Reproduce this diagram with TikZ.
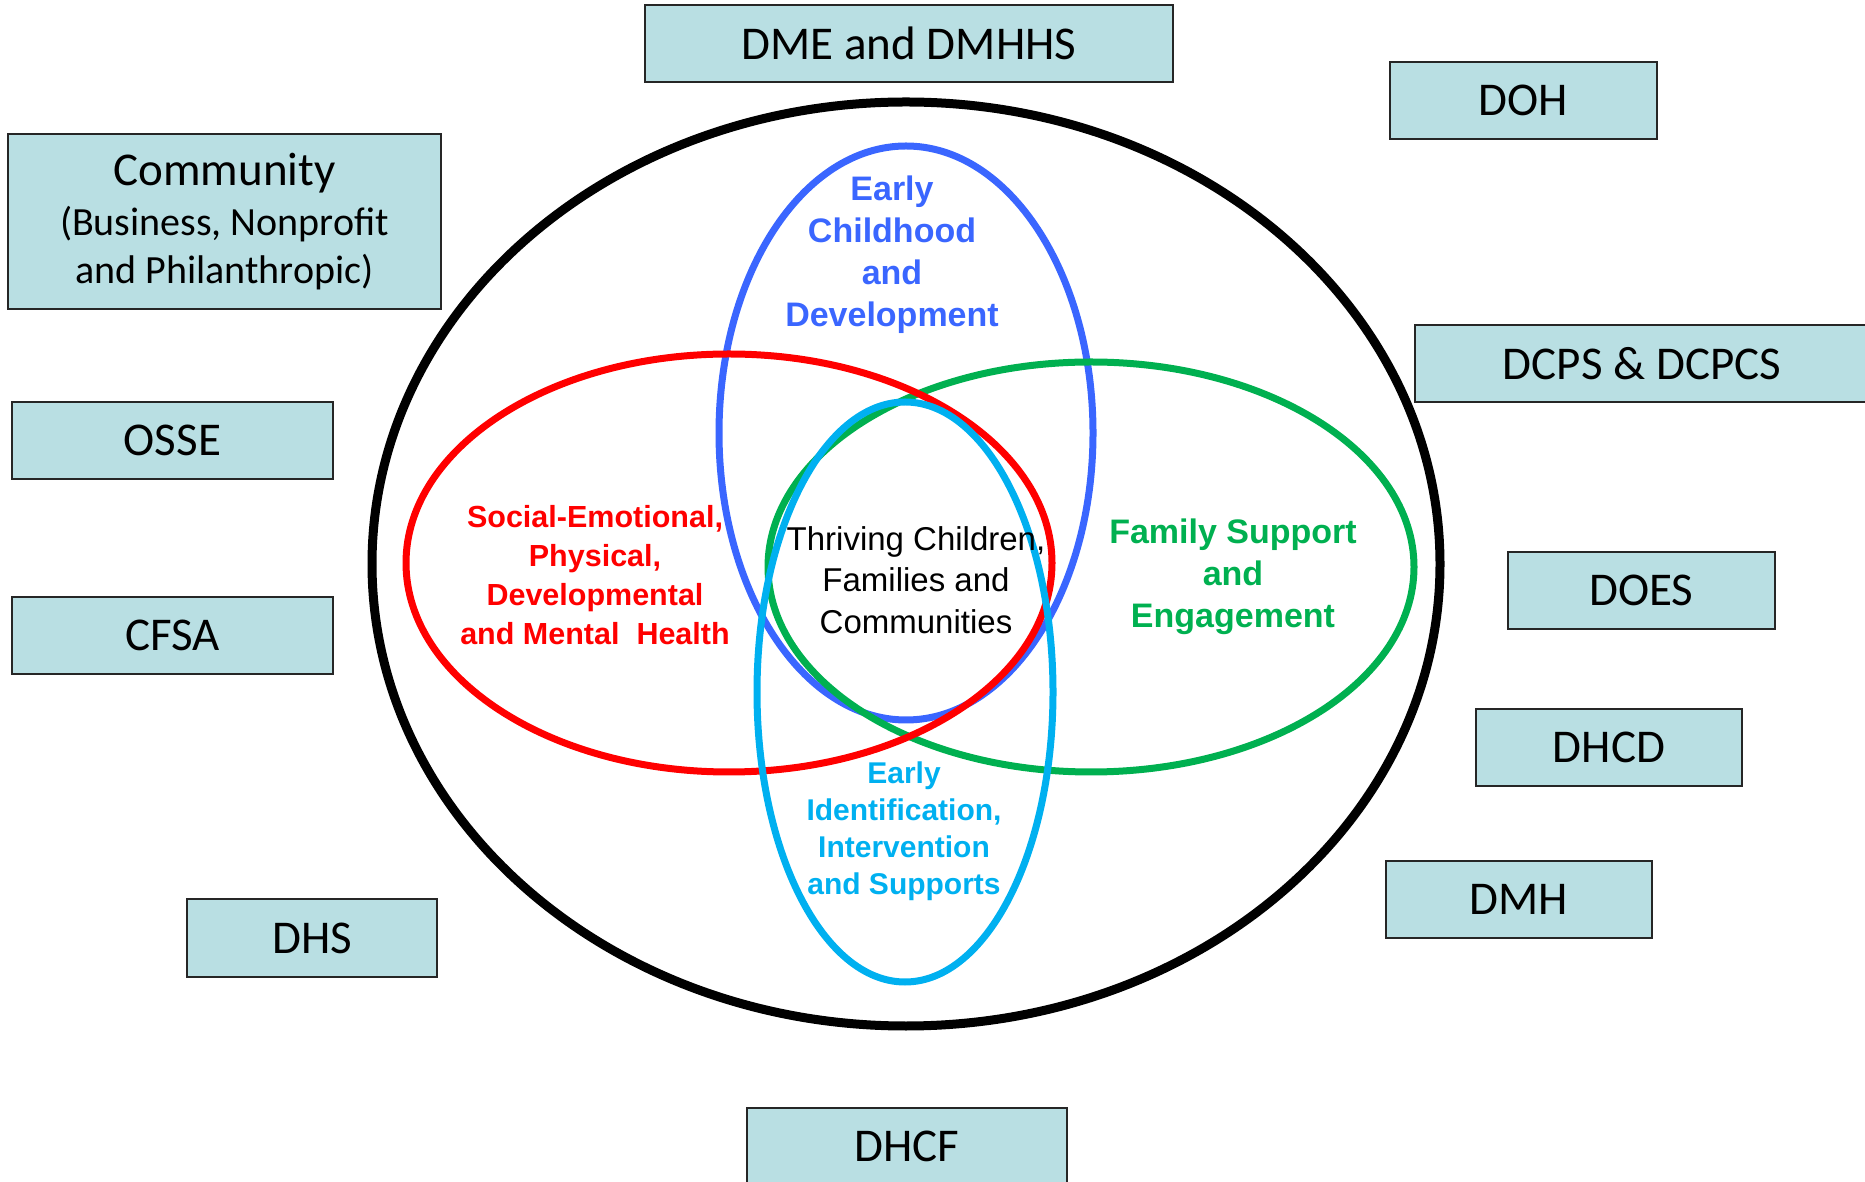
\documentclass[tikz,border=0pt]{standalone}
\usepackage{fontspec}
\setmainfont{Carlito}
\newfontfamily\arialfont{Liberation Sans}
\usepackage{xcolor}
\usetikzlibrary{positioning}

\definecolor{boxfill}{RGB}{185,223,227}
\definecolor{ecblue}{RGB}{58,102,255}
\definecolor{semred}{RGB}{255,0,0}
\definecolor{fsgreen}{RGB}{0,176,80}
\definecolor{eicyan}{RGB}{0,176,240}

\tikzset{
  agency/.style={draw=black!85, line width=2pt, fill=boxfill, inner sep=0pt,
    minimum height=77pt, font=\fontsize{47}{52}\selectfont},
  ring/.style={line width=7pt},
  areatext/.style={align=center, inner sep=0pt}
}

\begin{document}
\begin{tikzpicture}[x=1pt,y=1pt]
    \useasboundingbox (0,0) rectangle (1865,1181);
    % outer ring and the four areas
    \draw[line width=9pt] (906,617) ellipse [x radius=534pt, y radius=462pt];
    \draw[ring, ecblue]  (906,748) ellipse [x radius=187pt, y radius=287pt];
    \draw[ring, fsgreen] (1091,614) ellipse [x radius=323pt, y radius=205pt];
    \draw[ring, semred]  (729,618) ellipse [x radius=323pt, y radius=209pt];
    \draw[ring, eicyan]  (905,489) ellipse [x radius=148pt, y radius=290pt];

    % area labels
    \node[areatext, text=ecblue, font=\arialfont\bfseries\fontsize{34}{42}\selectfont] (ecd) at (892,926)
        {Early\\Childhood\\and\\Development};
    \node[areatext, text=semred, font=\arialfont\bfseries\fontsize{30.5}{39}\selectfont] (semh) at (595,606)
        {Social-Emotional,\\Physical,\\Developmental\\and Mental\ \ Health};
    \node[areatext, font=\arialfont\fontsize{33}{41.5}\selectfont] (thrive) at (916,601)
        {Thriving Children,\\Families and\\Communities};
    \node[areatext, text=fsgreen, font=\arialfont\bfseries\fontsize{34}{42}\selectfont] (fse) at (1233,604)
        {Family Support\\and\\Engagement};
    \node[areatext, text=eicyan, font=\arialfont\bfseries\fontsize{30}{37}\selectfont] (eiis) at (904,350)
        {Early\\Identification,\\Intervention\\and Supports};

    % agencies round the ring
    \node[agency, minimum width=528pt] (dme) at (909,1137.5) {DME and DMHHS};
    \node[agency, minimum width=267pt] (doh) at (1523.5,1080.5) {DOH};
    \node[agency, minimum width=433pt, minimum height=175pt, align=center,
          font=\fontsize{40}{48}\selectfont] (community) at (224.5,959.5)
        {{\fontsize{47}{52}\selectfont Community}\\[2pt](Business, Nonprofit\\and Philanthropic)};
    \node[agency, minimum width=321pt] (osse) at (172.5,740.5) {OSSE};
    \node[agency, minimum width=321pt] (cfsa) at (172.5,545.5) {CFSA};
    \node[agency, minimum width=454pt] (dcps) at (1642,817.5) {DCPS \& DCPCS};
    \node[agency, minimum width=267pt] (does) at (1641.5,590.5) {DOES};
    \node[agency, minimum width=266pt] (dhcd) at (1609,433.5) {DHCD};
    \node[agency, minimum width=266pt] (dmh) at (1519,281.5) {DMH};
    \node[agency, minimum width=250pt, minimum height=78pt] (dhs) at (312,243) {DHS};
    \node[agency, minimum width=320pt] (dhcf) at (907,34.5) {DHCF};
\end{tikzpicture}
\end{document}
